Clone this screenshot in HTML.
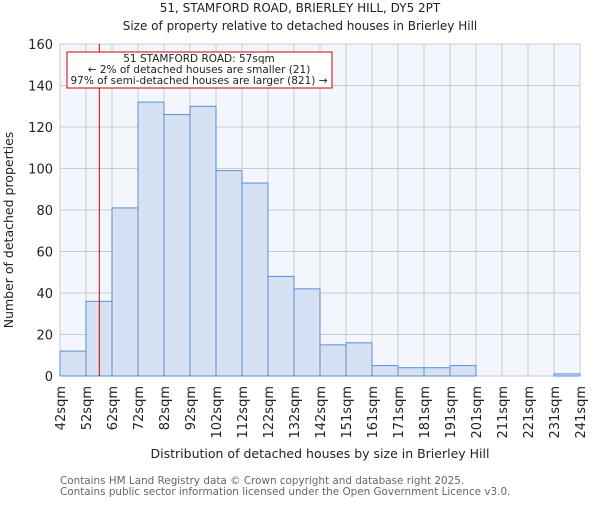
<!DOCTYPE html>
<html><head><meta charset="utf-8"><style>
body{margin:0;background:#fff;}
svg text{font-family:"DejaVu Sans","Liberation Sans",sans-serif;}
</style></head><body>
<svg width="600" height="500" xmlns="http://www.w3.org/2000/svg">
<text x="300" y="12" font-size="12" text-anchor="middle" fill="#222">51, STAMFORD ROAD, BRIERLEY HILL, DY5 2PT</text>
<text x="300" y="30" font-size="12" text-anchor="middle" fill="#222">Size of property relative to detached houses in Brierley Hill</text>
<rect x="60" y="44" width="520" height="332" fill="#f3f6fd"/>
<g id="grid" stroke="#cccccc" stroke-width="1"></g>
<g id="bars" fill="#d6e1f3" stroke="#5b8ed6" stroke-width="1"></g>
<line x1="99.3" y1="44" x2="99.3" y2="376" stroke="#cc0000" stroke-width="1"/>
<rect x="67" y="52" width="265" height="36" fill="#fff" stroke="#cc0000" stroke-width="1"/>
<text x="199" y="62" font-size="10.5" text-anchor="middle" fill="#222">51 STAMFORD ROAD: 57sqm</text>
<text x="199" y="73" font-size="10.5" text-anchor="middle" fill="#222">← 2% of detached houses are smaller (21)</text>
<text x="199" y="84" font-size="10.5" text-anchor="middle" fill="#222">97% of semi-detached houses are larger (821) →</text>
<g id="yl" font-size="13" text-anchor="end" fill="#222"></g>
<g id="xl" font-size="13" fill="#222"></g>
<text transform="translate(13,230) rotate(-90)" font-size="12.5" text-anchor="middle" fill="#222">Number of detached properties</text>
<text x="320" y="458" font-size="12.5" text-anchor="middle" fill="#222">Distribution of detached houses by size in Brierley Hill</text>
<text x="60" y="484" font-size="10.4" fill="#666">Contains HM Land Registry data © Crown copyright and database right 2025.</text>
<text x="60" y="495" font-size="10.4" fill="#666">Contains public sector information licensed under the Open Government Licence v3.0.</text>
</svg>
<script>
const ns="http://www.w3.org/2000/svg";
const vals=[12,36,81,132,126,130,99,93,48,42,15,16,5,4,4,5,0,0,0,1];
const labs=["42","52","62","72","82","92","102","112","122","132","142","151","161","171","181","191","201","211","221","231","241"];
const x0=60,w=26,y0=376,k=332/160;
const g=document.getElementById("grid"),b=document.getElementById("bars"),yl=document.getElementById("yl"),xl=document.getElementById("xl");
function el(t,a,p){const e=document.createElementNS(ns,t);for(const q in a)e.setAttribute(q,a[q]);p.appendChild(e);return e;}
for(let i=0;i<=20;i++){const x=x0+i*w;el("line",{x1:x,y1:44,x2:x,y2:y0},g);
 const t=el("text",{transform:`translate(${x+5},${y0+10}) rotate(-90)`,"text-anchor":"end"},xl);t.textContent=labs[i]+"sqm";}
for(let v=0;v<=160;v+=20){const y=y0-v*k;el("line",{x1:x0,y1:y,x2:580,y2:y},g);
 const t=el("text",{x:53,y:y+5},yl);t.textContent=v;}
vals.forEach((v,i)=>{if(v>0)el("rect",{x:x0+i*w,y:y0-v*k,width:w,height:v*k},b);});
</script>
</body></html>
